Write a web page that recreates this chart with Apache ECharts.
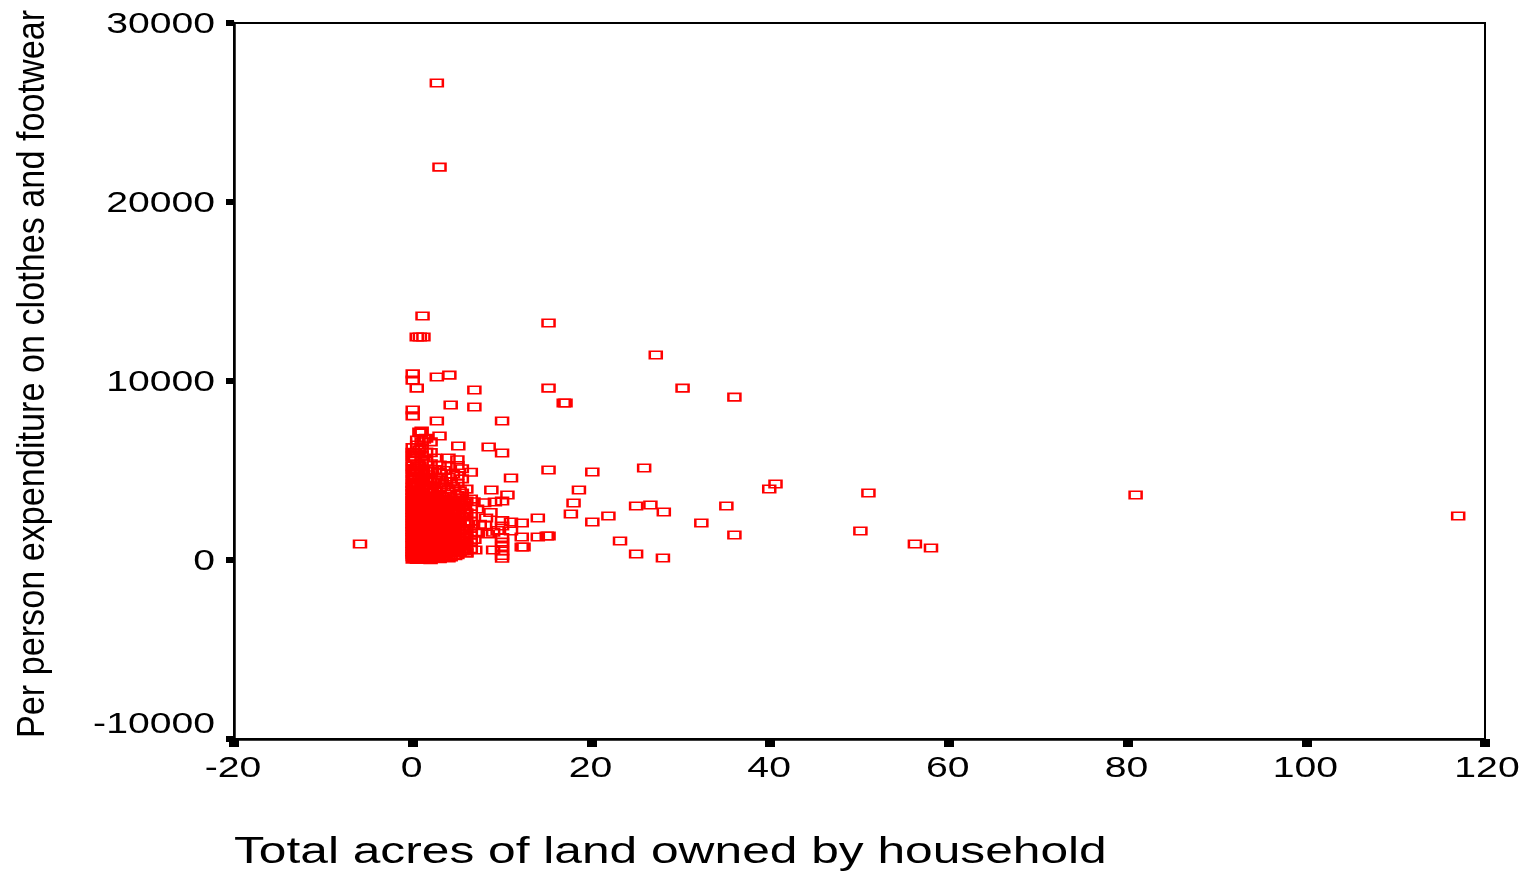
<!DOCTYPE html>
<html lang="en">
<head>
    <meta charset="UTF-8">
    <title>Land owned vs clothes spending</title>
    <script type="text/javascript" src="https://cdn.jsdelivr.net/npm/echarts@6/dist/echarts.min.js"></script>
    <style>
        html, body { margin: 0; padding: 0; background: #fff; }
        #charts { width: 1526px; height: 871px; }
    </style>
</head>
<body>
<div id="charts"></div>
<script>
    var xTicks = [-20, 0, 20, 40, 60, 80, 100, 120]
    var yTicks = [-10000, 0, 10000, 20000, 30000]
    var xTitle = "Total acres of land owned by household"
    var yTitle = "Per person expenditure on clothes and footwear"

    // households that can be read one by one
    var looseAcres = [2.7, 3.0, 1.1, 0.45, 0.8, 1.2, 15.2, 27.2, 0, 0, 2.7, 4.1, 0.45, 6.9, 15.2, 30.2, 36, 16.9, 17.1, 4.25,
        6.9, 0, 0, 2.7, 10, 3, 5.1, 8.5, 10, 15.2, 20.1, 25.9, 11, 18.6, 8.8, 40.6, 39.9, 51, 80.9, 117,
        18, 10.6, 9.2, 10, 25, 26.6, 35.1, 28.1, 17.7, 21.9, 14, 20.1, 32.3, 50.1, 36, 23.2, 56.2, 58, 25, 28,
        -5.9, 15.2, 15, 14, 12.2, 11, 11, 12.2, 12.2, 12.4, 10, 10, 10, 10, 10, 10, 10, 10, 9, 7,
        6, 3, 8, 8.2, 7.5, 9, 7.3, 6.8, 8.7, 9.5, 7.2, 8.4, 6.9, 8.1]
    var looseSpend = [26650, 21950, 13630, 12460, 12460, 12460, 13240, 11450, 10400, 10050, 10220, 10330, 9600, 9500, 9600, 9600, 9100, 8770, 8770, 8660,
        8550, 8380, 8050, 7770, 7770, 6930, 6370, 6310, 5980, 5030, 4920, 5140, 4580, 3910, 3910, 4250, 3970, 3740, 3630, 2460,
        3180, 3630, 3240, 3300, 3020, 3070, 3020, 2680, 2570, 2460, 2350, 2120, 2070, 1620, 1400, 1060, 890, 670, 335, 110,
        890, 1340, 1340, 1285, 2070, 2120, 1620, 1285, 730, 730, 2200, 1900, 1250, 1000, 750, 500, 250, 100, 560, 560,
        390, 100, 3200, 2350, 2000, 1550, 1500, 3250, 2650, 1650, 2850, 1450, 1150, 1950]

    // the dense block near zero acres, one spend list per acreage
    var blockAcres = [0, 0.25, 0.5, 0.75, 1, 1.25, 1.5, 2, 2.5, 3, 3.5, 4, 4.5, 5, 5.5, 6, 6.5,
        0.1, 0.35, 0.6, 0.9, 1.1, 1.75, 2.25, 2.75, 3.25, 3.75, 4.25, 4.75, 5.25, 5.75]
    var blockSpend = [
        [40, 180, 320, 470, 610, 790, 930, 1120, 1260, 1410, 1590, 1720, 1880, 2030, 2210, 2370, 2520, 2690, 2840, 3010, 3190, 3340, 3520, 3710, 3890, 4060, 4270, 4520, 4790, 5040, 5260, 5530, 5790, 6020, 6280],
        [90, 260, 540, 700, 880, 1050, 1340, 1530, 1790, 1960, 2290, 2450, 2760, 2920, 3260, 3440, 3820, 4150, 4610, 5120, 5680, 6000],
        [30, 220, 410, 650, 820, 1010, 1230, 1470, 1640, 1850, 2080, 2330, 2580, 2790, 3050, 3300, 3610, 3980, 4340, 4880, 5350, 5940, 6420, 6700],
        [150, 380, 760, 970, 1280, 1690, 2140, 2500, 2960, 3420, 3900, 4470, 5230, 6150, 7150],
        [60, 240, 430, 590, 840, 1070, 1320, 1510, 1760, 1990, 2210, 2480, 2730, 2980, 3210, 3480, 3730, 4020, 4310, 4650, 5010, 5420, 5830, 6240, 6610, 7200],
        [120, 510, 920, 1380, 1840, 2270, 2690, 3120, 3560, 4190, 6750],
        [50, 290, 620, 860, 1150, 1400, 1670, 1930, 2200, 2450, 2710, 3000, 3270, 3590, 3940, 4420, 4980, 5510, 6030, 6800],
        [20, 200, 480, 730, 1020, 1260, 1550, 1800, 2060, 2340, 2620, 2890, 3150, 3430, 3790, 4130, 4560, 4940, 5380, 6000, 6600],
        [130, 570, 900, 1330, 1720, 2150, 2540, 2950, 3380, 3850, 4440, 5060, 5700],
        [70, 340, 680, 1040, 1300, 1610, 1910, 2240, 2510, 2810, 3090, 3370, 3660, 4040, 4480, 4870, 5300],
        [250, 640, 1110, 1580, 2020, 2470, 2930, 3400, 4090, 5000],
        [110, 450, 800, 1180, 1490, 1870, 2180, 2560, 2870, 3210, 3540, 3980, 4640, 5230, 5700],
        [390, 850, 1360, 1780, 2300, 2750, 3290, 4110, 4800],
        [300, 580, 950, 1240, 1620, 2010, 2390, 2780, 3140, 3610, 4260, 4720, 5280, 5600],
        [520, 1090, 1700, 2410, 3050, 3740, 4530, 5100],
        [400, 820, 1210, 1650, 2120, 2640, 3300, 3960],
        [620, 960, 1410, 1760, 2170, 2570, 2990, 3410, 4900],
        [110, 390, 690, 1190, 1660, 2120, 2600, 3100, 3620, 4660],
        [70, 330, 610, 920, 1170, 1430, 1710, 2010, 2250, 2520, 2870, 3130, 3390, 3800, 5000],
        [140, 360, 590, 900, 1120, 1380, 1560, 1780, 1990, 2200, 2460, 2710, 2950, 3190, 3470, 4250, 5210],
        [210, 530, 780, 1090, 1440, 1830, 2070, 2390, 2640, 2870, 3120, 3350, 3640, 4900, 7100],
        [150, 350, 720, 960, 1210, 1450, 1620, 1880, 2110, 2350, 2600, 2860, 3090, 3360, 3600, 4500],
        [120, 420, 680, 940, 1190, 1480, 1740, 2050, 2290, 2580, 2820, 3080, 3330, 3560, 4760],
        [110, 390, 660, 900, 1150, 1420, 1700, 1960, 2190, 2470, 2740, 3020, 3290, 3550, 4350],
        [180, 460, 770, 1120, 1410, 1690, 1980, 2290, 2570, 2860, 3130, 3460],
        [150, 500, 840, 1150, 1450, 1760, 2100, 2360, 2680, 2990, 3240, 3520, 4320],
        [220, 540, 890, 1240, 1560, 1900, 2260, 2630, 2960, 3330, 4220],
        [170, 520, 860, 1220, 1550, 1920, 2290, 2650, 2990, 3370, 4380],
        [240, 640, 1020, 1420, 1830, 2240, 2620, 3030, 3480],
        [450, 790, 1120, 1470, 1850, 2220, 2590, 2960, 3350, 3860],
        [500, 870, 1290, 1690, 2060, 2460, 2830, 3190]
    ]

    var points = []
    for (var i = 0; i < looseAcres.length; i++) {
        points.push([looseAcres[i], looseSpend[i]])
    }
    for (var j = 0; j < blockAcres.length; j++) {
        for (var k = 0; k < blockSpend[j].length; k++) {
            points.push([blockAcres[j], blockSpend[j][k]])
        }
    }

    var chart = echarts.init(document.getElementById("charts"), null, {renderer: 'canvas'})
    chart.setOption({
        animation: false,
        backgroundColor: '#fff',
        grid: {left: 234, right: 41, top: 23, bottom: 132, show: true, borderColor: '#000', borderWidth: 2},
        xAxis: {
            type: 'value', min: -20, max: 120, interval: 20,
            splitLine: {show: false},
            axisLine: {onZero: false, lineStyle: {color: '#000', width: 2.5}},
            axisTick: {length: 8, lineStyle: {color: '#000', width: 10}},
            axisLabel: {show: false}
        },
        yAxis: {
            type: 'value', min: -10000, max: 30000, interval: 10000,
            splitLine: {show: false},
            axisLine: {onZero: false, lineStyle: {color: '#000', width: 2.5}},
            axisTick: {length: 8, lineStyle: {color: '#000', width: 6}},
            axisLabel: {show: false}
        },
        series: [{
            type: 'scatter',
            symbol: 'rect',
            symbolSize: [12, 7.5],
            itemStyle: {color: 'transparent', borderColor: '#ff0000', borderWidth: 2, opacity: 1},
            data: points
        }]
    })

    // the original text is stretched sideways, axisLabel cannot do that so it goes through graphic
    var labelFont = '29px "Liberation Sans"'
    var titleFont = '36px "Liberation Sans"'
    var sideFont = '38px "Liberation Sans"'
    var texts = []
    xTicks.forEach(function (t) {
        var px = chart.convertToPixel({xAxisIndex: 0}, t)
        texts.push({
            type: 'text', x: t == 120 ? px + 2 : px - 1, y: 769, scaleX: 1.35,
            style: {text: String(t), font: labelFont, fill: '#000', align: 'center', verticalAlign: 'middle'}
        })
    })
    yTicks.forEach(function (t) {
        var py = chart.convertToPixel({yAxisIndex: 0}, t)
        texts.push({
            type: 'text', x: 215, y: (t == -10000 ? py - 16 : py) + 2, scaleX: 1.35,
            style: {text: String(t), font: labelFont, fill: '#000', align: 'right', verticalAlign: 'middle'}
        })
    })
    texts.push({
        type: 'text', x: 234, y: 853, scaleX: 1.38,
        style: {text: xTitle, font: titleFont, fill: '#000', align: 'left', verticalAlign: 'middle'}
    })
    texts.push({
        type: 'text', x: 34, y: 374, rotation: Math.PI / 2, scaleX: 0.9,
        style: {text: yTitle, font: sideFont, fill: '#000', align: 'center', verticalAlign: 'middle'}
    })
    chart.setOption({graphic: texts})
</script>
</body>
</html>
